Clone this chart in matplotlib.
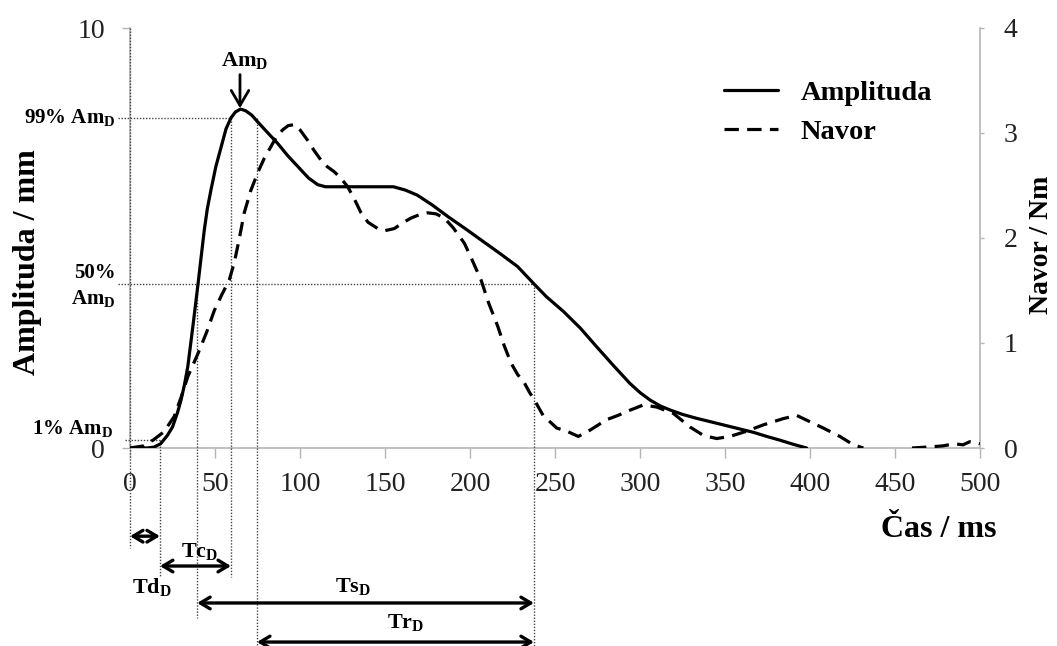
import matplotlib
matplotlib.use("Agg")
import matplotlib.pyplot as plt
import numpy as np

plt.rcParams['font.family'] = ['Liberation Serif', 'DejaVu Serif']
plt.rcParams['mathtext.fontset'] = 'custom'
plt.rcParams['mathtext.rm'] = 'Liberation Serif'
plt.rcParams['mathtext.bf'] = 'Liberation Serif:bold'

# ---- data ----
amp_t = [0, 10, 14, 18, 22, 25, 28, 30, 32, 34, 37, 40, 42, 43.7, 45.5, 47.6, 50.5,
         53.5, 56.5, 59.4, 62, 65, 68, 71.5, 75, 80, 86.9, 93, 100.6, 105, 110.4, 115,
         120, 155, 162, 169, 178, 187, 198, 208, 218, 228, 237.8, 245, 255, 265, 274.5,
         284, 294, 300, 306, 312, 318, 325, 333, 343, 353, 360, 367, 375, 382, 390, 398]
amp_v = [0, 0, 0.02, 0.1, 0.3, 0.5, 0.85, 1.14, 1.5, 1.94, 2.9, 3.9, 4.6, 5.19, 5.7, 6.14, 6.7,
         7.15, 7.6, 7.86, 8.0, 8.07, 8.03, 7.93, 7.77, 7.55, 7.25, 6.95, 6.62, 6.43, 6.27, 6.22,
         6.22, 6.22, 6.14, 6.02, 5.78, 5.51, 5.2, 4.91, 4.62, 4.32, 3.9, 3.6, 3.25, 2.85, 2.41,
         1.98, 1.54, 1.32, 1.14, 1.0, 0.9, 0.8, 0.71, 0.61, 0.51, 0.44, 0.37, 0.27, 0.19, 0.09, 0]

nav_t = [0, 8, 14, 20, 26, 30, 34, 40, 45, 49.6, 54, 58.4, 61.4, 64, 67.2, 71, 75.1, 79,
         82.9, 86, 89.8, 93, 96.7, 100, 104.5, 108, 112.4, 116, 120.2, 124, 128, 132, 135.9,
         140, 145.7, 150, 155.5, 160, 165.3, 170, 175.1, 180, 184.9, 190, 196.7, 201, 206.5,
         211, 216.3, 220, 224.1, 228, 232, 235, 237.8, 243, 251, 257, 263.7, 270.6, 280.4,
         287, 294.1, 302, 309.8, 319.6, 329.4, 337.3, 345.1, 352.9, 362.7, 372.5, 384.3,
         392.2, 400, 407.8, 417.6, 425.5, 431.4, 445, 460, 470, 478, 485, 490, 494, 498, 500]
nav_v = [0, 0.02, 0.08, 0.155, 0.3, 0.48, 0.68, 0.9, 1.1, 1.31, 1.46, 1.6, 1.77, 1.97, 2.24,
         2.45, 2.62, 2.76, 2.87, 2.96, 3.03, 3.07, 3.08, 3.03, 2.93, 2.84, 2.74, 2.68, 2.63,
         2.57, 2.49, 2.37, 2.24, 2.15, 2.09, 2.07, 2.09, 2.14, 2.19, 2.22, 2.24, 2.23, 2.19,
         2.1, 1.95, 1.8, 1.6, 1.38, 1.16, 0.98, 0.81, 0.7, 0.62, 0.53, 0.46, 0.31, 0.19, 0.16,
         0.11, 0.17, 0.27, 0.31, 0.36, 0.41, 0.39, 0.33, 0.2, 0.12, 0.09, 0.11, 0.16, 0.22,
         0.28, 0.31, 0.25, 0.19, 0.11, 0.03, 0, np.nan, 0, 0.01, 0.02, 0.04, 0.03, 0.06, 0.05, 0.04]

x_ticks = [0, 50, 100, 150, 200, 250, 300, 350, 400, 450, 500]
left_ticks = [0, 10]
right_ticks = [0, 1, 2, 3, 4]

# characteristic times (ms) and levels
t_delay, t_50, t_99a, t_peak, t_99b, t_50b = 17.6, 39.5, 59.4, 64.7, 74.7, 237.6
lvl_99, lvl_50, lvl_1, am_peak = 7.86, 3.9, 0.19, 8.07

# ---- figure ----
fig = plt.figure(figsize=(10.57, 6.46), dpi=100)
ax = fig.add_axes([130/1057, 1-448/646, 850/1057, 420/646])
ax2 = ax.twinx()

ax.set_xlim(0, 500)
ax.set_ylim(0, 10)
ax2.set_ylim(0, 4)

l1, = ax.plot(amp_t, amp_v, color='black', lw=2.3, solid_capstyle='round', label='Amplituda', zorder=5)
l2, = ax2.plot(nav_t, nav_v, color='black', lw=2.3, dashes=(4.5, 2.6), label='Navor', zorder=5)

grey = '#b5b5b5'
for a in (ax, ax2):
    a.spines['top'].set_visible(False)
    for s in ('left', 'right', 'bottom'):
        a.spines[s].set_color(grey)
        a.spines[s].set_linewidth(1.2)
ax2.spines['left'].set_visible(False)
ax2.spines['bottom'].set_visible(False)
ax.spines['right'].set_visible(False)

ax.set_xticks(x_ticks)
ax.set_yticks(left_ticks)
ax2.set_yticks(right_ticks)
ax.tick_params(axis='x', direction='out', length=7, width=1, color=grey, labelsize=20, pad=10, labelcolor='#222222')
ax.tick_params(axis='y', direction='out', length=6, width=1, color=grey, labelsize=20, pad=12, labelcolor='#222222')
ax2.tick_params(axis='y', direction='out', length=3, width=1, color=grey, labelsize=20, pad=14, labelcolor='#222222')

# axis labels
bold = dict(fontweight='bold', family=['Liberation Serif'])
ax.set_ylabel('Amplituda / mm', fontsize=23, **bold)
ax.yaxis.set_label_coords(-0.1035, 0.443)
ax2.set_ylabel('Navor / Nm', fontsize=20, rotation=90, **bold)
ax2.yaxis.set_label_coords(1.058, 0.483)
ax.text(0.951, -0.195, 'Čas / ms', transform=ax.transAxes, fontsize=23, ha='center', va='center', **bold)

# legend
leg = ax.legend(handles=[l1, l2], loc='upper left', bbox_to_anchor=(724/1057, 1-80/646),
                bbox_transform=fig.transFigure, frameon=False, handlelength=1.9,
                handletextpad=0.8, labelspacing=0.45, borderpad=0, borderaxespad=0,
                prop=dict(family='Liberation Serif', weight='bold', size=20.5))

# dotted guide lines (data coords, allowed outside the axes)
dot = dict(color='#444444', lw=1.0, ls=(0, (1, 1.2)), clip_on=False, zorder=3)
ax.plot([-7, t_99a], [lvl_99, lvl_99], **dot)
ax.plot([-7, t_50b], [lvl_50, lvl_50], **dot)
ax.plot([-3, t_delay], [lvl_1, lvl_1], **dot)
ax.plot([0, 0], [10, -2.38], **dot)
ax.plot([t_delay, t_delay], [lvl_1, -3.07], **dot)
ax.plot([t_50, t_50], [lvl_50, -4.05], **dot)
ax.plot([t_99a, t_99a], [lvl_99, -3.07], **dot)
ax.plot([t_99b, t_99b], [lvl_99, -4.72], **dot)
ax.plot([t_50b, t_50b], [lvl_50, -4.72], **dot)

# level labels
lab = dict(fontsize=15, fontweight='bold', ha='right', va='center', clip_on=False)
ax.text(-8.5, lvl_99, r'99% Am$_\mathbf{D}$', **lab)
ax.text(-8.5, 3.85, '50%\n' + r'Am$_\mathbf{D}$', linespacing=1.35, **lab)
ax.text(-10, 0.45, r'1% Am$_\mathbf{D}$', **lab)

# peak annotation
ax.annotate('', xy=(t_peak, am_peak + 0.02), xytext=(t_peak, am_peak + 0.82),
            arrowprops=dict(arrowstyle='->,head_length=0.6,head_width=0.35', color='black', lw=2,
                            mutation_scale=18, shrinkA=0, shrinkB=0))
ax.text(t_peak + 3, 9.21, r'Am$_\mathbf{D}$', fontsize=16, fontweight='bold', ha='center', va='center')

# time-interval arrows below axis
arr = dict(arrowstyle='<->,head_length=0.5,head_width=0.3', color='black', lw=2.4,
           mutation_scale=14, shrinkA=0, shrinkB=0)
def span(x0, x1, y):
    ax.annotate('', xy=(x0, y), xytext=(x1, y), arrowprops=arr, annotation_clip=False)

span(0, t_delay, -2.1)
span(t_delay, t_99a, -2.81)
span(t_50, t_50b, -3.69)
span(t_99b, t_50b, -4.62)

tl = dict(fontsize=16, fontweight='bold', ha='center', va='center', clip_on=False)
ax.text(13, -3.33, r'Td$_\mathbf{D}$', **tl)
ax.text(41, -2.48, r'Tc$_\mathbf{D}$', **tl)
ax.text(131, -3.31, r'Ts$_\mathbf{D}$', **tl)
ax.text(162, -4.17, r'Tr$_\mathbf{D}$', **tl)

fig.savefig('out.png', dpi=100)
